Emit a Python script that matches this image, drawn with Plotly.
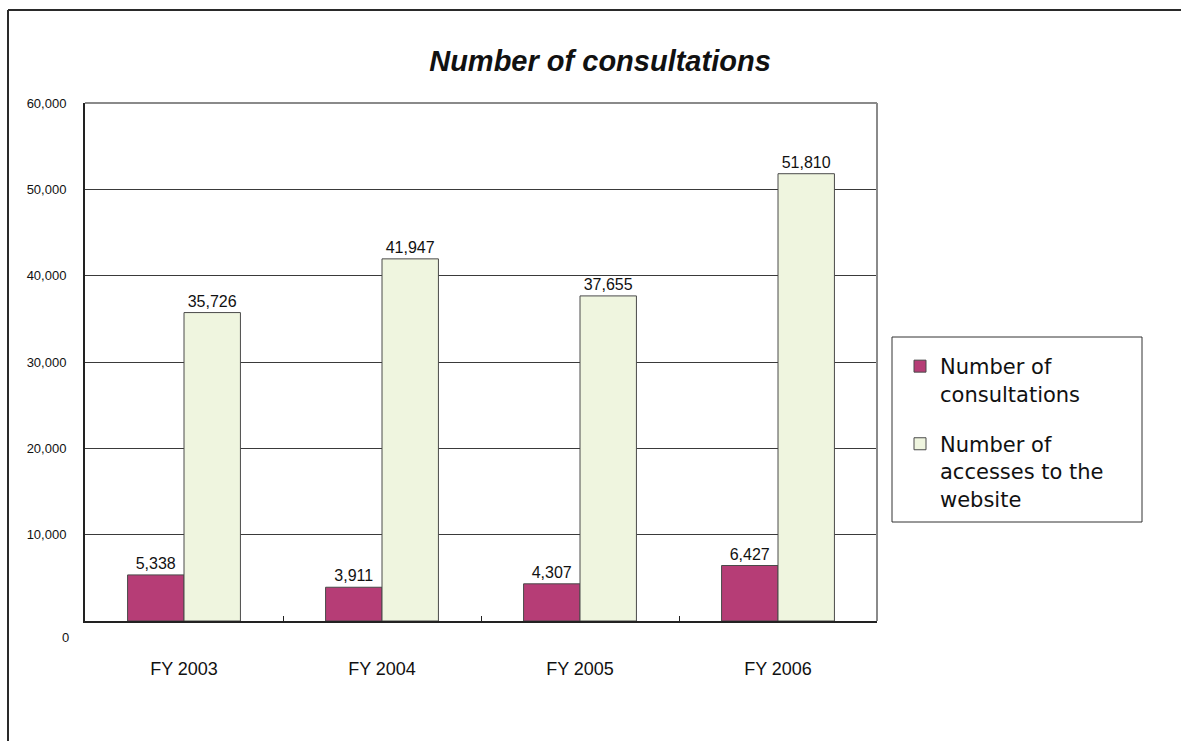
import plotly.graph_objects as go

# Fiscal years on the category axis
years = ["FY 2003", "FY 2004", "FY 2005", "FY 2006"]

# Series values
consultations = [5338, 3911, 4307, 6427]
website_accesses = [35726, 41947, 37655, 51810]

# Value axis ticks
y_tickvals = [0, 10000, 20000, 30000, 40000, 50000, 60000]
y_ticktext = ["", "10,000", "20,000", "30,000", "40,000", "50,000", "60,000"]

W, H = 1181, 741
L, R, T, B = 85, 304, 103, 120
pw, ph = W - L - R, H - T - B


def px_x(x):
    return (x - L) / pw


def px_y(y):
    return (H - B - y) / ph


label_font = dict(family="Liberation Sans, Arial, sans-serif", size=16, color="#111")

fig = go.Figure()
fig.add_trace(go.Bar(
    x=years, y=consultations, name="Number of<br>consultations",
    legendgroup="a",
    marker=dict(color="#B63D76", line=dict(color="#4a4a4a", width=1)),
    text=[f"{v:,}" for v in consultations], textposition="outside",
    textfont=label_font, cliponaxis=False,
))
fig.add_trace(go.Bar(
    x=years, y=website_accesses, name="Number of<br>accesses to the<br>website",
    legendgroup="b",
    marker=dict(color="#EFF5DF", line=dict(color="#4a4a4a", width=1)),
    text=[f"{v:,}" for v in website_accesses], textposition="outside",
    textfont=label_font, cliponaxis=False,
))

shapes = [
    # gray top and right edges of the plot frame
    dict(type="line", xref="paper", yref="paper", x0=0, x1=1, y0=1, y1=1,
         line=dict(color="#8a8a8a", width=2)),
    dict(type="line", xref="paper", yref="paper", x0=1, x1=1, y0=0, y1=1,
         line=dict(color="#8a8a8a", width=2)),
    # outer page border (top and left)
    dict(type="line", xref="paper", yref="paper", x0=px_x(8), x1=px_x(W + 5),
         y0=px_y(10), y1=px_y(10), line=dict(color="#2a2a2a", width=2)),
    dict(type="line", xref="paper", yref="paper", x0=px_x(8), x1=px_x(8),
         y0=px_y(10), y1=px_y(H + 5), line=dict(color="#2a2a2a", width=2)),
    # legend frame
    dict(type="rect", xref="paper", yref="paper", x0=px_x(892), x1=px_x(1142),
         y0=px_y(337), y1=px_y(522), line=dict(color="#333", width=1),
         fillcolor="white", layer="below"),
]

fig.update_layout(
    width=W, height=H,
    margin=dict(l=L, r=R, t=T, b=B),
    paper_bgcolor="white", plot_bgcolor="white",
    title=dict(text="<b><i>Number of consultations</i></b>",
               x=px_x(600), xref="paper", xanchor="center",
               y=1 - 61 / H, yref="container", yanchor="middle",
               font=dict(family="Liberation Sans, Arial, sans-serif", size=29, color="#111")),
    barmode="group", bargap=0.43, bargroupgap=0,
    showlegend=True,
    legend=dict(x=px_x(900), y=px_y(346), xanchor="left", yanchor="top",
                bgcolor="rgba(0,0,0,0)", borderwidth=0, valign="top",
                tracegroupgap=20,
                font=dict(family="DejaVu Sans, sans-serif", size=21, color="#111")),
    shapes=shapes,
    annotations=[dict(text="0", x=0, xref="paper", y=0, yref="y",
                      xanchor="right", yanchor="middle", xshift=-14, yshift=-16,
                      showarrow=False,
                      font=dict(family="Liberation Sans, Arial, sans-serif", size=13, color="#111"))],
    xaxis=dict(showline=True, linecolor="#222", linewidth=2,
               tickson="boundaries", ticks="inside", ticklen=5, tickcolor="#222",
               ticklabelstandoff=30,
               tickfont=dict(family="Liberation Sans, Arial, sans-serif", size=18, color="#111")),
    yaxis=dict(range=[0, 60000], tickvals=y_tickvals, ticktext=y_ticktext,
               showline=True, linecolor="#222", linewidth=2,
               showgrid=True, gridcolor="#3a3a3a", gridwidth=1,
               zeroline=False, ticks="", ticklabelstandoff=14,
               tickfont=dict(family="Liberation Sans, Arial, sans-serif", size=13, color="#111")),
)

fig.write_html("out.html")
